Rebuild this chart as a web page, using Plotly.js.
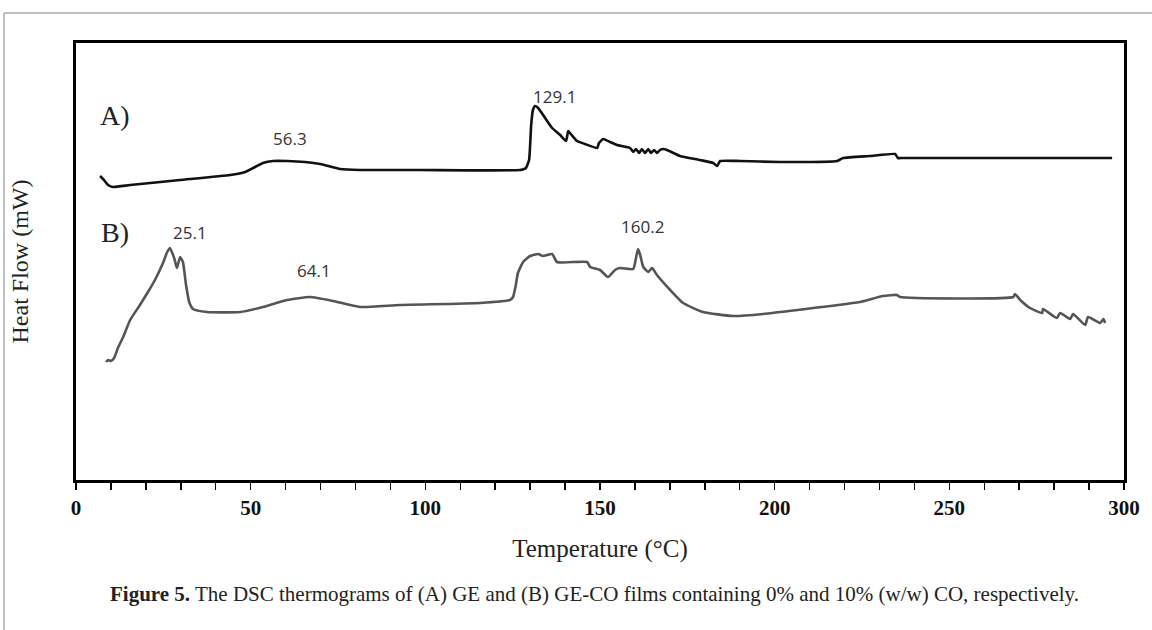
<!DOCTYPE html>
<html>
<head>
<meta charset="utf-8">
<script src="https://cdn.plot.ly/plotly-3.0.1.min.js"></script>
<style>
  html, body { margin: 0; padding: 0; background: #fff; }
  #chart { width: 1152px; height: 630px; }
</style>
</head>
<body>
<div id="chart"></div>
<script>
// Curve A: GE film (0% CO) — temperature (°C) and heat flow (arbitrary units)
const tempA = [6.9, 8.0, 9.2, 10.6, 15.5, 29.8, 44.1, 48.4, 50.7, 53.5, 56.4, 60.4, 65.6, 69.9, 75.6, 81.3, 98.5, 127.1,
  128.8, 129.7, 130.3, 130.8, 131.4, 132.3, 134.3, 136.3, 138.6, 140.3, 140.9, 141.4, 143.4, 145.7, 149.2, 149.7, 150.9,
  152.9, 154.9, 158.6, 159.5, 160.3, 161.2, 162.0, 162.9, 163.8, 164.6, 165.5, 166.3, 167.2, 168.1, 169.2, 172.9, 178.6,
  182.4, 183.5, 184.4, 190.1, 201.5, 217.9, 219.6, 227.3, 234.5, 235.3, 236.5, 260.0, 296.6];
const flowA = [304, 300, 295, 293, 295, 300, 305, 308, 312, 317, 319, 319, 318, 316, 311, 310, 310, 310,
  312, 320, 355, 370, 374, 372, 362, 352, 345, 339, 349, 347, 339, 336, 332, 337, 341,
  338, 335, 332, 328, 331, 327, 331, 327, 331, 327, 330, 327, 330, 331, 330, 324, 320,
  317, 314, 319, 319, 318, 319, 322, 324, 326, 322, 322, 322, 322];

// Curve B: GE-CO film (10% CO)
const tempB = [8.6, 9.2, 10.0, 10.9, 12.0, 13.5, 15.5, 18.3, 20.6, 22.6, 24.9, 26.1, 26.9, 28.1, 28.9, 29.8, 30.6, 31.5,
  32.4, 33.5, 37.5, 47.0, 53.5, 60.4, 67.0, 73.6, 81.3, 92.8, 115.7, 124.2, 125.1, 125.9, 126.5, 128.0, 130.0, 132.3,
  133.7, 136.3, 137.7, 146.3, 147.2, 150.0, 152.3, 154.3, 155.7, 159.5, 160.3, 160.9, 161.5, 162.4, 163.8, 164.9, 166.3,
  170.1, 173.8, 179.5, 188.1, 196.7, 201.5, 224.4, 231.0, 235.0, 235.9, 268.3, 268.8, 270.3, 273.1, 276.6, 276.8, 280.8,
  281.7, 284.6, 285.4, 288.9, 289.7, 293.2, 294.1, 294.6];
const flowB = [118, 120, 119, 122, 132, 143, 160, 175, 188, 200, 217, 228, 232, 222, 212, 223, 218, 195,
  178, 171, 168, 168, 173, 180, 183, 179, 173, 175, 177, 180, 183, 195, 207, 218, 224, 226,
  224, 226, 218, 218, 213, 210, 203, 210, 212, 211, 222, 231, 225, 213, 208, 212, 205,
  190, 177, 168, 164, 166, 168, 178, 184, 185, 183, 183, 186, 180, 172, 167, 171, 162,
  167, 161, 166, 155, 163, 157, 161, 157];

// Text labels
const curveLabels = ['A)', 'B)'];
const curveLabelX = [11.2, 11.2];
const curveLabelY = [365, 248];
const peakLabels = ['56.3', '129.1', '25.1', '64.1', '160.2'];
const peakLabelX = [61.3, 137.1, 32.6, 68.1, 162.3];
const peakLabelY = [342, 384, 248, 210, 254];

const xTickVals = [0, 50, 100, 150, 200, 250, 300];
const xTickText = ['0', '50', '100', '150', '200', '250', '300'];

const traces = [
  { x: tempA, y: flowA, type: 'scatter', mode: 'lines', name: 'A) GE',
    line: { color: '#111111', width: 2.6, shape: 'spline', smoothing: 0.4 } },
  { x: tempB, y: flowB, type: 'scatter', mode: 'lines', name: 'B) GE-CO',
    line: { color: '#555555', width: 2.6, shape: 'spline', smoothing: 0.5 } }
];

const annotations = [];
curveLabels.forEach((t, i) => annotations.push({
  x: curveLabelX[i], y: curveLabelY[i], xref: 'x', yref: 'y', text: t, showarrow: false,
  xanchor: 'center', yanchor: 'middle',
  font: { family: 'Liberation Serif, Times New Roman, serif', size: 28, color: '#222' }
}));
peakLabels.forEach((t, i) => annotations.push({
  x: peakLabelX[i], y: peakLabelY[i], xref: 'x', yref: 'y', text: t, showarrow: false,
  xanchor: 'center', yanchor: 'middle',
  font: { family: 'Open Sans, sans-serif', size: 17, color: '#333' }
}));
annotations.push({
  xref: 'paper', yref: 'paper', x: 0.495, y: -0.260, xanchor: 'center', yanchor: 'middle',
  showarrow: false,
  text: '<b>Figure 5.</b> The DSC thermograms of (A) GE and (B) GE-CO films containing 0% and 10% (w/w) CO, respectively.',
  font: { family: 'Liberation Serif, Times New Roman, serif', size: 21, color: '#222' }
});

const layout = {
  width: 1152, height: 630,
  margin: { l: 76, r: 28, t: 43, b: 150 },
  paper_bgcolor: '#ffffff', plot_bgcolor: '#ffffff',
  showlegend: false,
  xaxis: {
    range: [0, 300], showgrid: false, zeroline: false,
    showline: true, linecolor: '#000', linewidth: 3, mirror: true,
    ticks: 'outside', ticklen: 7, tickwidth: 1.5, tickcolor: '#000',
    tickvals: xTickVals, ticktext: xTickText,
    minor: { dtick: 10, ticks: 'outside', ticklen: 7, tickwidth: 1.5, tickcolor: '#000' },
    tickfont: { family: 'Liberation Serif, Times New Roman, serif', size: 21, color: '#111', weight: 'bold' },
    title: { text: 'Temperature (°C)', standoff: 21,
      font: { family: 'Liberation Serif, Times New Roman, serif', size: 25, color: '#222' } }
  },
  yaxis: {
    range: [0, 437], showgrid: false, zeroline: false,
    showline: true, linecolor: '#000', linewidth: 3, mirror: true,
    showticklabels: false, ticks: '',
    title: { text: 'Heat Flow (mW)', standoff: 38,
      font: { family: 'Liberation Serif, Times New Roman, serif', size: 24, color: '#222' } }
  },
  annotations: annotations,
  shapes: [
    { type: 'line', xref: 'paper', yref: 'paper', x0: -0.0687, x1: 1.03, y0: 1.0686, y1: 1.0686,
      line: { color: '#aaaaaa', width: 1.5 } },
    { type: 'line', xref: 'paper', yref: 'paper', x0: -0.0687, x1: -0.0687, y0: 1.0686, y1: -0.35,
      line: { color: '#aaaaaa', width: 1.5 } }
  ]
};

Plotly.newPlot('chart', traces, layout, { displayModeBar: false, staticPlot: true });
</script>
</body>
</html>
